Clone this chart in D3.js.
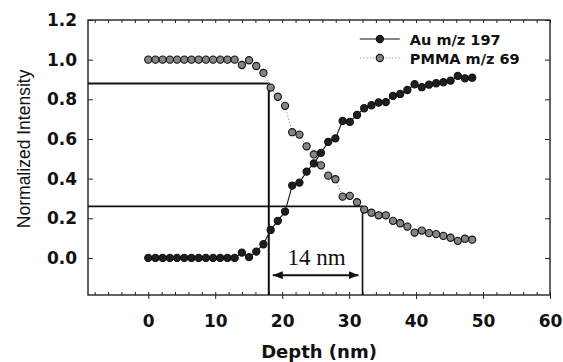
<!DOCTYPE html>
<html>
<head>
<meta charset="utf-8">
<script src="https://cdn.jsdelivr.net/npm/d3@7"></script>
<style>
  html, body { margin: 0; padding: 0; background: #fff; }
  svg { display: block; }
</style>
</head>
<body>
<svg id="chart" width="563" height="362"></svg>
<script>
// Depth of each sputter cycle (nm)
const depth = [
  0, 1.08, 2.15, 3.23, 4.3, 5.38, 6.45, 7.53, 8.6, 9.68,
  10.75, 11.83, 12.9, 13.98, 15.05, 16.13, 17.2, 18.28, 19.35, 20.43,
  21.5, 22.58, 23.65, 24.73, 25.8, 26.88, 27.95, 29.03, 30.1, 31.18,
  32.25, 33.33, 34.4, 35.48, 36.55, 37.63, 38.7, 39.78, 40.85, 41.93,
  43.0, 44.08, 45.15, 46.23, 47.3, 48.38
];

// Au m/z 197
const au = [
  0, 0, 0, 0, 0, 0, 0, 0, 0, 0,
  0, 0, 0, 0.027, 0.004, 0.032, 0.069, 0.141, 0.187, 0.234,
  0.365, 0.38, 0.435, 0.477, 0.53, 0.585, 0.603, 0.691, 0.686, 0.721,
  0.755, 0.77, 0.784, 0.786, 0.817, 0.827, 0.847, 0.876, 0.861, 0.874,
  0.881, 0.886, 0.894, 0.918, 0.906, 0.909
];

// PMMA m/z 69
const pmma = [
  1, 1, 1, 1, 1, 1, 1, 1, 1, 1,
  1, 1, 1, 0.973, 0.997, 0.968, 0.933, 0.859, 0.813, 0.767,
  0.634, 0.622, 0.563, 0.522, 0.467, 0.415, 0.397, 0.309, 0.313, 0.281,
  0.244, 0.228, 0.215, 0.215, 0.187, 0.175, 0.158, 0.128, 0.138, 0.125,
  0.12, 0.111, 0.102, 0.086, 0.097, 0.092
];

const xTicks = [0, 10, 20, 30, 40, 50, 60];
const xMinorTicks = d3.range(-8, 61, 2);
const yTicks = [0, 0.2, 0.4, 0.6, 0.8, 1.0, 1.2];

// Interface width markers: 88% / 26% levels and their depths
const levelHigh = 0.88;
const levelLow = 0.26;
const depthHigh = 18;
const depthLow = 32;
const widthLabel = '14 nm';

const series = [
  { name: 'Au m/z 197', values: au, fill: '#1e1e1e', line: '#111', dash: null, lineWidth: 1.1 },
  { name: 'PMMA m/z 69', values: pmma, fill: '#858585', line: '#8a8a8a', dash: '1.2,2', lineWidth: 1 }
];

const margin = { top: 20, right: 13, bottom: 67, left: 88 };
const W = 563, H = 362;
const innerW = W - margin.left - margin.right;
const innerH = H - margin.top - margin.bottom;

const svg = d3.select('#chart');
const g = svg.append('g').attr('transform', `translate(${margin.left},${margin.top})`);

const x = d3.scaleLinear().domain([-9, 60]).range([0, innerW]);
const y = d3.scaleLinear().domain([-0.187, 1.2]).range([innerH, 0]);

const tickFont = 'DejaVu Sans, Verdana, sans-serif';

// Left axis (ticks point inward)
const yAxis = g.append('g')
  .call(d3.axisLeft(y).tickValues(yTicks).tickFormat(d3.format('.1f')).tickSize(-5).tickPadding(11));
// Right axis mirror ticks
const yAxisR = g.append('g')
  .attr('transform', `translate(${innerW},0)`)
  .call(d3.axisRight(y).tickValues(yTicks).tickSize(-5).tickFormat(''));
// Bottom axis: major ticks outward, minor inward
const xAxis = g.append('g')
  .attr('transform', `translate(0,${innerH})`)
  .call(d3.axisBottom(x).tickValues(xTicks).tickFormat(d3.format('d')).tickSize(4).tickPadding(16));
const xMinor = g.append('g')
  .attr('transform', `translate(0,${innerH})`)
  .call(d3.axisBottom(x).tickValues(xMinorTicks).tickSize(-3).tickFormat(''));
// Top minor ticks
const xTop = g.append('g')
  .call(d3.axisTop(x).tickValues(xMinorTicks).tickSize(-3).tickFormat(''));

[yAxis, yAxisR, xAxis, xMinor, xTop].forEach((ax) => {
  ax.select('.domain').remove();
  ax.selectAll('line').attr('stroke', '#222').attr('stroke-width', 1);
  ax.selectAll('text')
    .attr('fill', '#111')
    .style('font-family', tickFont)
    .style('font-weight', 'bold')
    .style('font-size', '17px');
});

// Frame
g.append('rect')
  .attr('x', 0).attr('y', 0)
  .attr('width', innerW).attr('height', innerH)
  .attr('fill', 'none')
  .attr('stroke', '#222')
  .attr('stroke-width', 1.4);

// Reference lines for the interface width
const refs = g.append('g').attr('stroke', '#111').attr('fill', 'none');
refs.append('path')
  .attr('stroke-width', 2)
  .attr('d', d3.line()([
    [x(-9), y(levelHigh)], [x(depthHigh), y(levelHigh)], [x(depthHigh), y(-0.187)]
  ]));
refs.append('path')
  .attr('stroke-width', 1.6)
  .attr('d', d3.line()([
    [x(-9), y(levelLow)], [x(depthLow), y(levelLow)], [x(depthLow), y(-0.187)]
  ]));

// Double-headed arrow + label
const defs = svg.append('defs');
['start', 'end'].forEach((k) => {
  defs.append('marker')
    .attr('id', 'arrow-' + k)
    .attr('viewBox', '0 0 10 8')
    .attr('refX', k === 'end' ? 10 : 0)
    .attr('refY', 4)
    .attr('markerWidth', 10)
    .attr('markerHeight', 8)
    .attr('markerUnits', 'userSpaceOnUse')
    .attr('orient', 'auto')
    .append('path')
      .attr('d', k === 'end' ? 'M0,0L10,4L0,8Z' : 'M10,0L0,4L10,8Z')
      .attr('fill', '#111');
});
const arrowY = -0.087;
g.append('line')
  .attr('x1', x(depthHigh + 0.6)).attr('x2', x(depthLow - 0.6))
  .attr('y1', y(arrowY)).attr('y2', y(arrowY))
  .attr('stroke', '#111')
  .attr('stroke-width', 2)
  .attr('marker-start', 'url(#arrow-start)')
  .attr('marker-end', 'url(#arrow-end)');
g.append('text')
  .attr('x', x((depthHigh + depthLow) / 2) + 1)
  .attr('y', y(-0.035))
  .attr('text-anchor', 'middle')
  .attr('fill', '#111')
  .style('font-family', 'Liberation Serif, Times New Roman, serif')
  .style('font-size', '23px')
  .text(widthLabel);

// Series lines and markers
series.forEach((s) => {
  const pts = depth.map((d, i) => [d, s.values[i]]);
  g.append('path')
    .datum(pts)
    .attr('fill', 'none')
    .attr('stroke', s.line)
    .attr('stroke-width', s.lineWidth)
    .attr('stroke-dasharray', s.dash)
    .attr('d', d3.line().x(d => x(d[0])).y(d => y(d[1])));
  g.append('g')
    .selectAll('circle')
    .data(pts)
    .join('circle')
      .attr('cx', d => x(d[0]))
      .attr('cy', d => y(d[1]))
      .attr('r', 3.6)
      .attr('fill', s.fill)
      .attr('stroke', '#111')
      .attr('stroke-width', 1.1);
});

// Legend
const legend = g.append('g').attr('transform', `translate(${x(31.6)},19)`);
series.forEach((s, i) => {
  const row = legend.append('g').attr('transform', `translate(0,${i * 19})`);
  row.append('line')
    .attr('x1', 0).attr('x2', 40)
    .attr('stroke', s.line)
    .attr('stroke-width', s.lineWidth)
    .attr('stroke-dasharray', s.dash);
  row.append('circle')
    .attr('cx', 20).attr('r', 3.6)
    .attr('fill', s.fill)
    .attr('stroke', '#111')
    .attr('stroke-width', 1.1);
  row.append('text')
    .attr('x', 50).attr('y', 5.5)
    .attr('fill', '#111')
    .style('font-family', tickFont)
    .style('font-weight', 'bold')
    .style('font-size', '14.5px')
    .text(s.name);
});

// Axis titles
svg.append('text')
  .attr('x', margin.left + innerW / 2)
  .attr('y', 358)
  .attr('text-anchor', 'middle')
  .attr('fill', '#111')
  .style('font-family', tickFont)
  .style('font-weight', 'bold')
  .style('font-size', '18px')
  .text('Depth (nm)');

svg.append('text')
  .attr('transform', `translate(30,${margin.top + y(0.55)}) rotate(-90)`)
  .attr('text-anchor', 'middle')
  .attr('fill', '#111')
  .style('font-family', 'Liberation Sans, Arial, sans-serif')
  .style('font-size', '17.5px')
  .text('Normalized Intensity');
</script>
</body>
</html>
